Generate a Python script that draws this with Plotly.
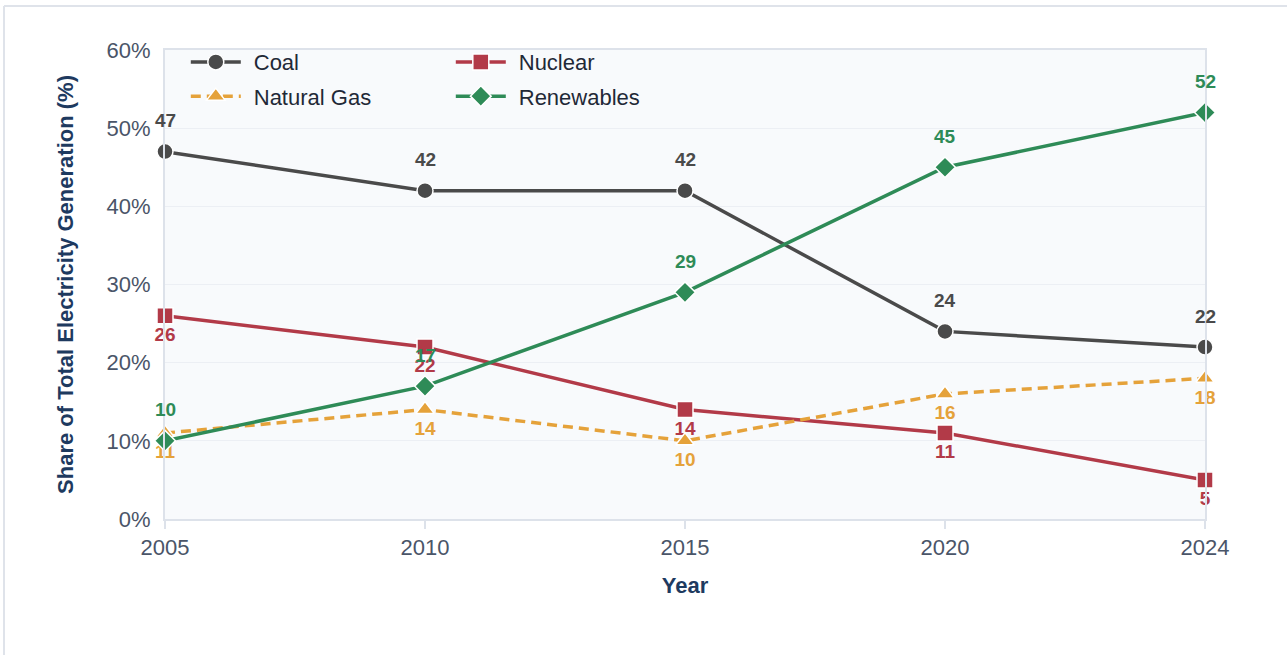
import plotly.graph_objects as go

years = ["2005", "2010", "2015", "2020", "2024"]
coal = [47, 42, 42, 24, 22]
nuclear = [26, 22, 14, 11, 5]
natural_gas = [11, 14, 10, 16, 18]
renewables = [10, 17, 29, 45, 52]

y_ticks = [0, 10, 20, 30, 40, 50, 60]
y_ticktext = [f"{v}%" for v in y_ticks]

FONT = "Liberation Sans, Arial, sans-serif"
C_COAL = "#4a4a4a"
C_NUC = "#b23a48"
C_GAS = "#e5a23a"
C_REN = "#2e8b57"

PAD = "\u00a0\u200a"

# name, values, colour, symbol, dash, label side, legend
series = [
    ("Coal", coal, C_COAL, "circle", "solid", "top", "legend"),
    ("Nuclear", nuclear, C_NUC, "square", "solid", "bottom", "legend"),
    ("Natural Gas", natural_gas, C_GAS, "triangle-up", "10px,6px", "bottom", "legend2"),
    ("Renewables", renewables, C_REN, "diamond", "solid", "top", "legend2"),
]

fig = go.Figure()
annotations = []
for name, vals, col, sym, dash, side, leg in series:
    label_font = dict(family=FONT, size=19, color=col, weight="bold")
    if side == "bottom":
        kw = dict(mode="lines+markers+text", text=[str(v) for v in vals],
                  textposition="bottom center", textfont=label_font)
    else:
        kw = dict(mode="lines+markers")
        for i, yv in enumerate(vals):
            annotations.append(dict(
                x=i, y=yv, xref="x", yref="y", text=str(yv), showarrow=False,
                yanchor="middle", yshift=31, font=label_font,
            ))
    fig.add_trace(go.Scatter(
        x=years, y=vals, name=PAD + name,
        line=dict(color=col, width=3.5, dash=dash),
        marker=dict(symbol=sym, size=16, color=col, line=dict(color="white", width=1.5)),
        cliponaxis=False, legend=leg, **kw,
    ))

legend_common = dict(
    orientation="h", xanchor="left", yanchor="top",
    bgcolor="rgba(0,0,0,0)", borderwidth=0,
    font=dict(family=FONT, size=22, color="#1f2937"),
    itemwidth=50, entrywidthmode="pixels", entrywidth=200,
)

fig.update_layout(
    width=1287, height=655,
    margin=dict(l=165, r=82, t=50, b=136),
    paper_bgcolor="white", plot_bgcolor="#f8fafc",
    font=dict(family=FONT, color="#4a5568"),
    showlegend=True,
    legend=dict(x=0.02, y=1.019, **legend_common),
    legend2=dict(x=0.02, y=0.946, **legend_common),
    annotations=annotations,
    xaxis=dict(
        type="category", categoryorder="array", categoryarray=years,
        range=[0, 4], showgrid=False,
        showline=True, linecolor="#dde2ea", linewidth=2, mirror=True,
        ticks="outside", ticklen=8, tickcolor="#dde2ea", tickwidth=2,
        tickfont=dict(family=FONT, size=22, color="#4a5568"),
        title=dict(text="Year", font=dict(family=FONT, size=22, color="#1e3a5f", weight="bold"), standoff=18),
    ),
    yaxis=dict(
        range=[0, 60], tickvals=y_ticks, ticktext=y_ticktext,
        showgrid=True, gridcolor="#eceff4", gridwidth=1,
        zeroline=False,
        showline=True, linecolor="#dde2ea", linewidth=2, mirror=True,
        ticks="", ticklabelstandoff=8,
        tickfont=dict(family=FONT, size=22, color="#4a5568"),
        title=dict(text="Share of Total Electricity Generation (%)",
                   font=dict(family=FONT, size=22, color="#1e3a5f", weight="bold"), standoff=27),
    ),
    shapes=[
        dict(type="line", xref="paper", yref="paper", x0=-0.1548, x1=1.2, y0=1.0938, y1=1.0938,
             line=dict(color="#dfe3ea", width=2), layer="below"),
        dict(type="line", xref="paper", yref="paper", x0=-0.1548, x1=-0.1548, y0=-0.3, y1=1.0938,
             line=dict(color="#dfe3ea", width=2), layer="below"),
    ],
)

fig.write_html("out.html", config={"displayModeBar": False},
               post_script="document.body.style.margin='0';")
